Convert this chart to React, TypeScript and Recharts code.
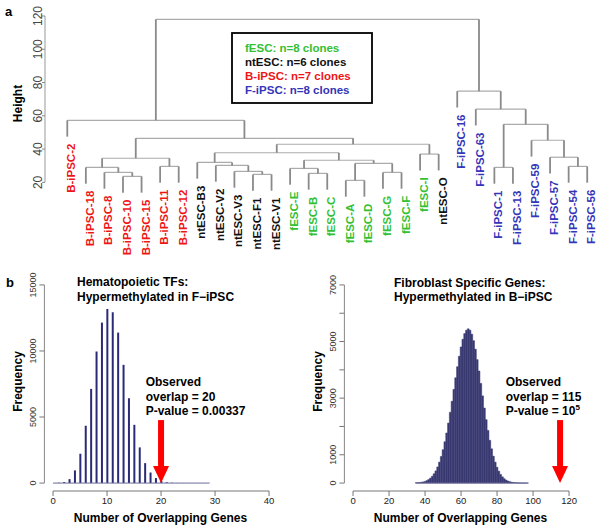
import React from 'react';
import { ComposedChart, Bar, Line, Scatter, XAxis, YAxis, ReferenceLine } from 'recharts';

const FONT = '"Liberation Sans", Arial, Helvetica, sans-serif';

// ---------- a: clustering of clones ----------
const leafNames = [
  'B-iPSC-2', 'B-iPSC-18', 'B-iPSC-8', 'B-iPSC-10', 'B-iPSC-15', 'B-iPSC-11', 'B-iPSC-12',
  'ntESC-B3', 'ntESC-V2', 'ntESC-V3', 'ntESC-F1', 'ntESC-V1',
  'fESC-E', 'fESC-B', 'fESC-C', 'fESC-A', 'fESC-D', 'fESC-G', 'fESC-F', 'fESC-I', 'ntESC-O',
  'F-iPSC-16', 'F-iPSC-63', 'F-iPSC-1', 'F-iPSC-13', 'F-iPSC-59', 'F-iPSC-57', 'F-iPSC-54', 'F-iPSC-56',
];
const groups = ['fESC', 'ntESC', 'B-iPSC', 'F-iPSC'];
const groupColors: Record<string, string> = {
  fESC: '#33c033',
  ntESC: '#111111',
  'B-iPSC': '#ee1515',
  'F-iPSC': '#3535b8',
};

// merge steps like hclust: [left, right, height], 'mN' = node made in step N
const merges: [string, string, number][] = [
  ['B-iPSC-10', 'B-iPSC-15', 23.6], // m1
  ['B-iPSC-8', 'm1', 26.0], // m2
  ['B-iPSC-18', 'm2', 29.0], // m3
  ['B-iPSC-11', 'B-iPSC-12', 29.6], // m4
  ['m3', 'm4', 34.5], // m5
  ['ntESC-F1', 'ntESC-V1', 24.8], // m6
  ['ntESC-V3', 'm6', 26.6], // m7
  ['ntESC-V2', 'm7', 30.2], // m8
  ['ntESC-B3', 'm8', 32.0], // m9
  ['fESC-B', 'fESC-C', 25.4], // m10
  ['fESC-E', 'm10', 28.4], // m11
  ['fESC-A', 'fESC-D', 21.2], // m12
  ['fESC-G', 'fESC-F', 26.0], // m13
  ['m12', 'm13', 31.4], // m14
  ['m11', 'm14', 33.3], // m15
  ['m9', 'm15', 37.8], // m16
  ['fESC-I', 'ntESC-O', 37.0], // m17
  ['m16', 'm17', 42.9], // m18
  ['m5', 'm18', 46.5], // m19
  ['B-iPSC-2', 'm19', 57.3], // m20
  ['F-iPSC-54', 'F-iPSC-56', 29.6], // m21
  ['F-iPSC-57', 'm21', 35.1], // m22
  ['F-iPSC-59', 'm22', 45.3], // m23
  ['F-iPSC-1', 'F-iPSC-13', 29.0], // m24
  ['m24', 'm23', 54.9], // m25
  ['F-iPSC-63', 'm25', 64.0], // m26
  ['F-iPSC-16', 'm26', 74.8], // m27
  ['m20', 'm27', 118.0], // m28
];
const heightTicks = [20, 40, 60, 80, 100, 120];
const HANG = 9.8;

// ---------- b: permutation histograms ----------
const hemaBins = [0, 1, 2, 3, 4, 5, 6, 7, 8, 9, 10, 11, 12, 13, 14, 15, 16, 17, 18, 19, 20, 21, 22, 23, 24, 25, 26, 27, 28, 29];
const hemaCounts = [5, 25, 90, 300, 960, 2220, 4340, 7130, 9960, 12150, 13180, 12930, 11390, 8950, 6430, 4410, 2700, 1510, 800, 380, 160, 60, 25, 10, 4, 2, 1, 0, 0, 0];
const hemaObserved = 20;
const hemaPValue = '0.00337';
const hemaXTicks = [0, 10, 20, 30, 40];
const hemaYTicks = [0, 5000, 10000, 15000];

const fibroBins = [
  35, 36, 37, 38, 39, 40, 41, 42, 43, 44, 45, 46, 47, 48, 49, 50, 51, 52, 53, 54, 55,
  56, 57, 58, 59, 60, 61, 62, 63, 64, 65, 66, 67, 68, 69, 70, 71, 72, 73, 74, 75, 76,
  77, 78, 79, 80, 81, 82, 83, 84, 85, 86, 87, 88, 89, 90, 91, 92, 93, 94, 95, 96, 97,
];
const fibroCounts = [
  8, 12, 18, 28, 41, 60, 87, 124, 175, 240, 325, 430, 570, 740, 940, 1180, 1460, 1770, 2120, 2500, 2890,
  3310, 3720, 4110, 4480, 4810, 5080, 5280, 5400, 5450, 5400, 5260, 5030, 4730, 4360, 3960, 3520, 3080, 2650, 2240, 1860, 1510,
  1210, 950, 740, 560, 420, 305, 220, 155, 108, 74, 50, 33, 21, 14, 9, 5, 3, 2, 1, 1, 1,
];
const fibroObserved = 115;
const fibroXTicks = [0, 20, 40, 60, 80, 100, 120];
const fibroYTicks = [0, 1000, 2000, 3000, 4000, 5000, 6000, 7000];

// ---------- tree layout ----------
const groupOf = (name: string) => groups.find((g) => name.startsWith(g)) as string;
const groupCounts = groups.map((g) => leafNames.filter((n) => groupOf(n) === g).length);

const pos: Record<string, { x: number; h: number | null }> = {};
leafNames.forEach((n, i) => {
  pos[n] = { x: i + 1, h: null };
});
const leafEnd: Record<string, number> = {};
const branches = merges.map(([a, b, h], i) => {
  const A = pos[a];
  const B = pos[b];
  const ya = A.h === null ? h - HANG : A.h;
  const yb = B.h === null ? h - HANG : B.h;
  if (A.h === null) leafEnd[a] = ya;
  if (B.h === null) leafEnd[b] = yb;
  const key = 'm' + (i + 1);
  pos[key] = { x: (A.x + B.x) / 2, h };
  return {
    key,
    left: [{ x: A.x, y: ya }, { x: A.x, y: h }],
    top: [{ x: A.x, y: h }, { x: B.x, y: h }],
    right: [{ x: B.x, y: h }, { x: B.x, y: yb }],
  };
});
const leafPoints = leafNames.map((n, i) => ({ x: i + 1, y: leafEnd[n], name: n }));

const DendroTick = (props: any) => {
  const { x, y, payload } = props;
  return (
    <text x={x} y={y} transform={`rotate(-90 ${x} ${y})`} textAnchor="middle" fontSize={12} fill="#444" fontFamily={FONT}>
      {payload.value}
    </text>
  );
};

const LeafLabel = (props: any) => {
  const { cx, cy, payload } = props;
  const x = cx + 8;
  const y = cy + 7;
  return (
    <text
      x={x}
      y={y}
      transform={`rotate(-90 ${x} ${y})`}
      textAnchor="end"
      fontSize={11.5}
      fontWeight="bold"
      fill={groupColors[groupOf(payload.name)]}
      fontFamily={FONT}
    >
      {payload.name}
    </text>
  );
};

const Arrow = (props: any) => {
  const { cx, cy } = props;
  const len = 63;
  const shaft = 6;
  const headW = 16;
  const headH = 17;
  return (
    <g>
      <rect x={cx - shaft / 2} y={cy - len} width={shaft} height={len - headH + 1} fill="#ff0000" />
      <polygon points={`${cx - headW / 2},${cy - headH} ${cx + headW / 2},${cy - headH} ${cx},${cy}`} fill="#ff0000" />
    </g>
  );
};

const Dendrogram = () => (
  <ComposedChart width={600} height={270} margin={{ top: 16, right: 3.5, bottom: 71, left: 0 }}>
    <XAxis type="number" dataKey="x" domain={[-0.2, 29.5]} hide />
    <YAxis
      type="number"
      dataKey="y"
      domain={[10, 120]}
      ticks={heightTicks}
      interval={0}
      width={45}
      axisLine={false}
      tickLine={{ stroke: '#888' }}
      tickSize={3}
      tickMargin={0}
      tick={(p: any) => <DendroTick {...p} />}
    />
    <ReferenceLine segment={[{ x: -0.2, y: 20 }, { x: -0.2, y: 120 }]} stroke="#999" ifOverflow="visible" />
    {branches.map((b) => (
      <Line key={b.key + 't'} data={b.top} dataKey="y" type="linear" stroke="#ababab" strokeWidth={1.2} dot={false} activeDot={false} isAnimationActive={false} />
    ))}
    {branches.map((b) => (
      <Line key={b.key + 'l'} data={b.left} dataKey="y" type="linear" stroke="#8a8a8a" strokeWidth={1.8} dot={false} activeDot={false} isAnimationActive={false} />
    ))}
    {branches.map((b) => (
      <Line key={b.key + 'r'} data={b.right} dataKey="y" type="linear" stroke="#8a8a8a" strokeWidth={1.8} dot={false} activeDot={false} isAnimationActive={false} />
    ))}
    <Scatter data={leafPoints} shape={(p: any) => <LeafLabel {...p} />} isAnimationActive={false} />
  </ComposedChart>
);

type HistProps = {
  bins: number[];
  counts: number[];
  observed: number;
  xDomain: [number, number];
  xTicks: number[];
  yDomain: [number, number];
  yTicks: number[];
  showY: (v: number) => boolean;
  barSize: number;
  fill: string;
  barStroke?: string;
};

const Histogram = ({ bins, counts, observed, xDomain, xTicks, yDomain, yTicks, showY, barSize, fill, barStroke }: HistProps) => {
  const data = bins.map((x, i) => ({ x, y: counts[i] }));
  const RotTick = (props: any) => {
    const { x, y, payload } = props;
    if (!showY(payload.value)) return null;
    return (
      <text x={x} y={y} transform={`rotate(-90 ${x} ${y})`} textAnchor="middle" fontSize={9} fill="#333" fontFamily={FONT}>
        {payload.value}
      </text>
    );
  };
  return (
    <ComposedChart width={300} height={279} data={data} margin={{ top: 27, right: 22.3, bottom: 0, left: 0 }}>
      <XAxis
        type="number"
        dataKey="x"
        domain={xDomain}
        ticks={xTicks}
        interval={0}
        height={38}
        axisLine={false}
        tickLine={{ stroke: '#777' }}
        tickSize={5}
        tickMargin={1}
        tick={{ fontSize: 9.5, fill: '#222', fontFamily: FONT }}
      />
      <YAxis
        type="number"
        dataKey="y"
        domain={yDomain}
        ticks={yTicks}
        interval={0}
        width={44.4}
        axisLine={false}
        tickLine={{ stroke: '#777' }}
        tickSize={5}
        tickMargin={3.4}
        tick={(p: any) => <RotTick {...p} />}
      />
      <ReferenceLine segment={[{ x: xTicks[0], y: yDomain[0] }, { x: xTicks[xTicks.length - 1], y: yDomain[0] }]} stroke="#777" ifOverflow="visible" />
      <ReferenceLine segment={[{ x: xDomain[0], y: yTicks[0] }, { x: xDomain[0], y: yTicks[yTicks.length - 1] }]} stroke="#888" ifOverflow="visible" />
      <ReferenceLine segment={[{ x: bins[0], y: 0 }, { x: bins[bins.length - 1], y: 0 }]} stroke="#6c6c98" ifOverflow="visible" />
      <Bar
        dataKey="y"
        fill={fill}
        barSize={barSize}
        stroke={barStroke}
        strokeWidth={barStroke ? 0.5 : 0}
        isAnimationActive={false}
      />
      <Scatter data={[{ x: observed, y: 0 }]} shape={(p: any) => <Arrow {...p} />} isAnimationActive={false} />
    </ComposedChart>
  );
};

const T = ({ x, y, size = 12, bold = true, fill = '#000', anchor = 'start', rotate = false, children }: any) => (
  <text
    x={x}
    y={y}
    fontSize={size}
    fontWeight={bold ? 'bold' : 'normal'}
    fill={fill}
    fontFamily={FONT}
    textAnchor={anchor}
    transform={rotate ? `rotate(-90 ${x} ${y})` : undefined}
  >
    {children}
  </text>
);

export default function App() {
  return (
    <div style={{ position: 'absolute', left: 0, top: 0, width: 600, height: 529, background: '#fff', overflow: 'hidden' }}>
      <div style={{ position: 'absolute', left: 0, top: 0 }}>
        <Dendrogram />
      </div>
      <div style={{ position: 'absolute', left: 0, top: 250 }}>
        <Histogram
          bins={hemaBins}
          counts={hemaCounts}
          observed={hemaObserved}
          xDomain={[-1.6, 41.6]}
          xTicks={hemaXTicks}
          yDomain={[-600, 15600]}
          yTicks={hemaYTicks}
          showY={() => true}
          barSize={2}
          fill="#2a2a78"
        />
      </div>
      <div style={{ position: 'absolute', left: 300, top: 250 }}>
        <Histogram
          bins={fibroBins}
          counts={fibroCounts}
          observed={fibroObserved}
          xDomain={[-4.8, 124.8]}
          xTicks={fibroXTicks}
          yDomain={[-280, 7280]}
          yTicks={fibroYTicks}
          showY={(v) => v === 0 || (v / 1000) % 2 === 1}
          barSize={1.78}
          fill="#3a3a72"
          barStroke="#3a3a72"
        />
      </div>
      <svg width={600} height={529} style={{ position: 'absolute', left: 0, top: 0, pointerEvents: 'none' }}>
        <T x={5} y={15.5} size={13}>a</T>
        <T x={22} y={103.5} rotate anchor="middle">Height</T>
        <rect x={232} y={33} width={140} height={70} fill="none" stroke="#000" strokeWidth={1.8} />
        {groups.map((g, i) => (
          <T key={g} x={245} y={51.5 + i * 14.2} size={11.5} fill={groupColors[g]}>
            {`${g}: n=${groupCounts[i]} clones`}
          </T>
        ))}

        <T x={6} y={287} size={13}>b</T>
        <T x={77} y={286}>Hematopoietic TFs:</T>
        <T x={77} y={300.5}>Hypermethylated in F−iPSC</T>
        <T x={145.7} y={386}>Observed</T>
        <T x={145.7} y={400.5}>{`overlap = ${hemaObserved}`}</T>
        <T x={145.7} y={415}>{`P-value = ${hemaPValue}`}</T>
        <T x={160.5} y={522} anchor="middle">Number of Overlapping Genes</T>
        <T x={22} y={381.5} rotate anchor="middle">Frequency</T>

        <T x={394} y={287}>Fibroblast Specific Genes:</T>
        <T x={394} y={300.5}>Hypermethylated in B−iPSC</T>
        <T x={505.7} y={386}>Observed</T>
        <T x={505.7} y={400.5}>{`overlap = ${fibroObserved}`}</T>
        <text x={505.7} y={415} fontSize={12} fontWeight="bold" fontFamily={FONT} fill="#000">
          P-value = 10<tspan fontSize={8} dy={-5}>5</tspan>
        </text>
        <T x={460.5} y={522} anchor="middle">Number of Overlapping Genes</T>
        <T x={322} y={381.5} rotate anchor="middle">Frequency</T>
      </svg>
    </div>
  );
}
